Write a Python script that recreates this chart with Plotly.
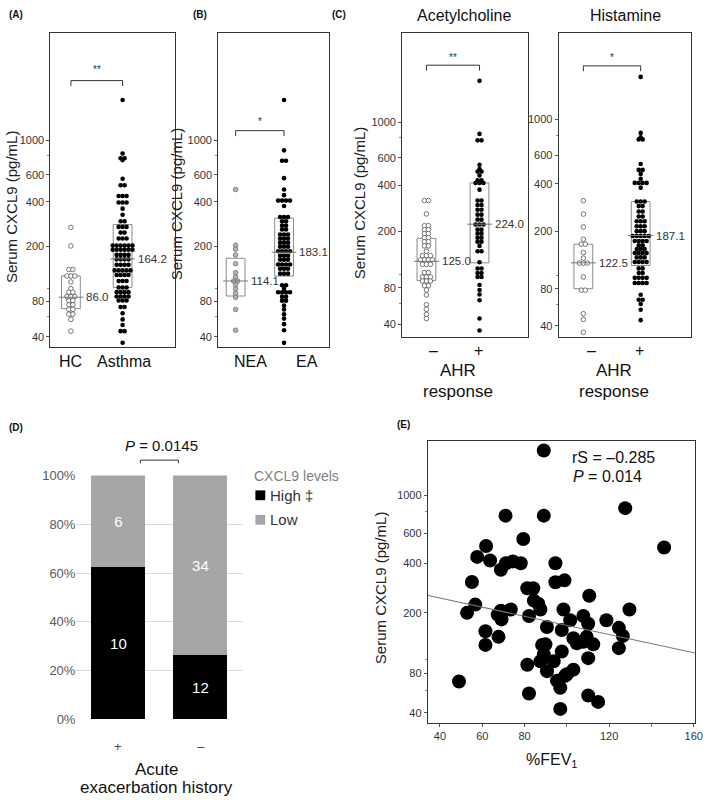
import numpy as np
import plotly.graph_objects as go

W, H = 709, 808
FONT = "Liberation Sans, Arial, sans-serif"

# ---------------- data ----------------
# (A) HC vs Asthma
hc = [270, 202, 138, 138, 124, 124, 124, 112, 100, 94, 94, 87, 87, 87, 81, 81,
      75, 75, 69, 69, 63, 63, 57, 45]
asthma = [1800, 822, 765, 765, 745, 565, 512, 512, 436, 436, 436, 395, 395, 395,
          360, 328, 297, 297, 272, 272, 272, 249, 249, 227, 227, 227,
          203, 203, 203, 203, 203, 203, 190, 190, 190, 190, 190, 190,
          175, 175, 175, 175, 163, 163, 163, 163, 149, 149, 149, 149,
          136, 136, 136, 136, 136, 126, 126, 126, 126, 114, 114, 114,
          102, 102, 102, 94, 94, 94, 94, 87, 87, 87, 87, 81, 81, 81,
          72, 72, 64, 57, 51, 45, 45, 35]
a_groups = ["HC", "Asthma"]
a_median = [86.0, 164.2]
a_q1 = [70, 102]
a_q3 = [124, 282]
a_sig = "**"

# (B) NEA vs EA
nea = [481, 204, 192, 175, 152, 131, 122, 114, 114, 107, 99.5, 92, 86, 69, 46]
ea = [1800, 861, 738, 738, 570, 481, 442, 407, 407, 407, 407, 375,
      317, 317, 317, 297, 297, 278, 278, 262, 262, 242, 242, 242,
      227, 227, 227, 213, 213, 213, 200, 200, 200, 186, 186, 186, 186,
      173, 173, 173, 162, 162, 162, 150, 150, 150, 150, 140, 140, 140,
      129, 129, 129, 106, 106, 100, 94, 94, 94, 94, 87, 87, 81, 81,
      74, 69, 63, 58, 52, 46, 35]
b_groups = ["NEA", "EA"]
b_median = [114.1, 183.1]
b_q1 = [88, 124]
b_q3 = [166, 312]
b_sig = "*"

# (C) AHR response, acetylcholine
ach_neg = [320, 320, 262, 219, 219, 206, 206, 194, 194, 182, 182, 171, 171,
           160, 160, 147, 137, 137, 137, 128, 128, 128, 128, 119, 119, 119,
           104, 104, 96.5, 96.5, 96.5, 90, 90, 90, 83, 83, 77, 70.6, 59, 54, 49, 45]
ach_pos = [1800, 845, 770, 770, 541, 509, 490, 490, 463, 431, 431, 415, 415, 415,
           376, 320, 320, 299, 299, 279, 279, 259, 259, 240, 240, 223, 223, 223,
           206, 206, 194, 194, 182, 182, 171, 171, 160, 147, 147, 123, 111, 111,
           103, 103, 96.5, 96.5, 84, 77, 71, 64, 45, 35]
ach_median = [125.0, 224.0]
ach_q1 = [91, 122]
ach_q3 = [180, 415]
ach_sig = "**"

# (C) AHR response, histamine
his_neg = [314, 258, 213, 177, 164, 164, 144, 132, 122, 122, 122, 97.5, 78, 78,
           51, 45.6, 35]
his_pos = [1800, 825, 776, 753, 753, 532, 489, 489, 462, 431, 406, 406, 406, 406,
           379, 310, 310, 310, 290, 290, 268, 268, 249, 249, 232, 232, 232,
           215, 215, 215, 200, 200, 200, 186, 186, 186, 186, 186,
           172, 172, 172, 172, 161, 161, 152, 152, 152, 143, 143, 143, 143,
           133.5, 133.5, 133.5, 124, 124, 124, 124, 112, 112, 104, 104,
           96, 96, 96, 96, 88, 88, 88, 88, 72, 66, 66, 61, 55, 45]
his_median = [122.5, 187.1]
his_q1 = [80, 117.5]
his_q3 = [164, 310]
his_sig = "*"
ahr_groups = ["\u2013", "+"]
c_titles = ["Acetylcholine", "Histamine"]

y_ticks = [40, 80, 200, 400, 600, 1000]
y_minor = [60, 100, 800]

# (D) acute exacerbation history vs CXCL9 level
d_groups = ["+", "\u2013"]
d_high = [10, 12]
d_low = [6, 34]
d_series = ["High", "Low"]
d_pval = "0.0145"
d_ticks = [0, 20, 40, 60, 80, 100]

# (E) %FEV1 vs serum CXCL9
fev1 = [89.1, 127.6, 71.0, 89.1, 146.0, 79.4, 61.8, 57.6, 63.7, 68.8, 71.2, 74.5,
        78.2, 94.6, 55.1, 94.6, 98.9, 81.3, 84.1, 110.6, 56.7, 52.8, 84.4, 87.5,
        68.8, 73.5, 82.1, 98.4, 129.6, 107.8, 67.3, 69.1, 61.5, 61.5, 67.7, 90.6,
        101.6, 110.1, 118.7, 124.6, 126.5, 124.6, 97.6, 103.1, 107.8, 112.5, 89.9,
        97.6, 89.1, 110.1, 81.3, 87.5, 93.8, 90.6, 103.1, 99.2, 95.3, 96.9, 82.1,
        110.1, 114.8, 96.9, 49.0, 109.4, 104.7, 88.3, 100.0, 86.5]
cxcl9 = [1800, 840, 760, 760, 495, 555, 505, 436, 415, 366, 400, 410, 400, 400,
         309, 308, 316, 283, 283, 255, 225, 200, 238, 210, 206, 210, 191, 210,
         210, 191, 195, 182, 153, 125, 141, 163, 180, 171, 180, 161, 143, 119,
         156, 138, 131, 126, 126, 113, 108, 102, 92, 97, 97, 83, 85, 77, 71, 63,
         57, 55, 49, 43, 70, 141, 128, 125, 79, 228]
trend_fev = [30, 165]
trend_cxcl9 = [263, 107]
e_rs = "\u20130.285"
e_p = "0.014"
e_xticks = [40, 60, 80, 120, 160]
e_xminor = [100, 140]


# ---------------- helpers ----------------
def T(v):
    """Axis scale used by the original figure: log10(value + 20)."""
    return np.log10(np.asarray(v, dtype=float) + 20.0)


def px_x(p):
    return p / W


def px_y(p):
    return 1 - p / H


def swarm(vals, center, px_per_unit, gap_px=4.0):
    xs = np.zeros(len(vals))
    rows = {}
    for i, v in enumerate(vals):
        rows.setdefault(v, []).append(i)
    for v, idx in rows.items():
        k = len(idx)
        for j, i in enumerate(idx):
            xs[i] = center + (j - (k - 1) / 2) * gap_px / px_per_unit
    return xs.tolist(), T(vals).tolist()


fig = go.Figure()
shapes = []
annotations = []


def ann(text, x, y, size, xref="paper", yref="paper", color="#222", xanchor="center",
        yanchor="middle", textangle=0, xshift=0, **kw):
    annotations.append(dict(text=text, x=x, y=y, xref=xref, yref=yref, showarrow=False,
                            font=dict(size=size, color=color, family=FONT),
                            xanchor=xanchor, yanchor=yanchor, textangle=textangle,
                            xshift=xshift, **kw))


# dot-plot panel geometry (pixels)
panels = [
    dict(id="", x0=51, x1=177, top=26.7, bot=346.7, trange=(1.712, 3.678), g0=71.7, g1=124.0,
         data=(hc, asthma), styles=("open", "black"), median=a_median, q1=a_q1, q3=a_q3,
         labels=a_groups, lab_px=(71, 125), lab_y=361.7, lab_size=16,
         br_y=75, star_y=64, sig=a_sig, ytitle_x=11, ytitle_y=203),
    dict(id="2", x0=220.7, x1=333, top=26.7, bot=346.0, trange=(1.717, 3.678), g0=238.3, g1=287.3,
         data=(nea, ea), styles=("grey", "black"), median=b_median, q1=b_q1, q3=b_q3,
         labels=b_groups, lab_px=(253, 310), lab_y=361.7, lab_size=16,
         br_y=126, star_y=117, sig=b_sig, ytitle_x=178, ytitle_y=200),
    dict(id="3", x0=406.7, x1=534, top=26.7, bot=336.7, trange=(1.698, 3.550), g0=431.3, g1=485.0,
         data=(ach_neg, ach_pos), styles=("open", "black"), median=ach_median, q1=ach_q1, q3=ach_q3,
         labels=ahr_groups, lab_px=(438, 484), lab_y=350, lab_size=16,
         br_y=59.3, star_y=51, sig=ach_sig, ytitle_x=363, ytitle_y=199),
    dict(id="4", x0=565, x1=699, top=26.7, bot=336.0, trange=(1.714, 3.520), g0=590.0, g1=648.0,
         data=(his_neg, his_pos), styles=("open", "black"), median=his_median, q1=his_q1, q3=his_q3,
         labels=ahr_groups, lab_px=(598, 647), lab_y=350, lab_size=16,
         br_y=60, star_y=51, sig=his_sig, ytitle_x=None, ytitle_y=None),
]

marker_styles = {
    "open": dict(size=4.6, color="white", line=dict(color="#555", width=0.8)),
    "grey": dict(size=4.6, color="#b4b4b4", line=dict(color="#6e6e6e", width=0.8)),
    "black": dict(size=4.6, color="black", line=dict(width=0)),
}

layout_axes = {}
for p in panels:
    sid = p["id"]
    xname, yname = "x" + sid, "y" + sid
    unit = p["g1"] - p["g0"]
    xr = [(p["x0"] - p["g0"]) / unit, (p["x1"] - p["g0"]) / unit]
    for gi, (vals, st) in enumerate(zip(p["data"], p["styles"])):
        xs, ys = swarm(vals, gi, unit)
        fig.add_trace(go.Scatter(x=xs, y=ys, mode="markers", xaxis=xname, yaxis=yname,
                                 marker=marker_styles[st], showlegend=False, hoverinfo="skip"))
        hw = 9.5 / unit
        mh = 12.5 / unit
        shapes.append(dict(type="rect", xref=xname, yref=yname, x0=gi - hw, x1=gi + hw,
                           y0=float(T(p["q1"][gi])), y1=float(T(p["q3"][gi])),
                           line=dict(color="#8a8a8a", width=1), layer="below"))
        shapes.append(dict(type="line", xref=xname, yref=yname, x0=gi - mh, x1=gi + mh,
                           y0=float(T(p["median"][gi])), y1=float(T(p["median"][gi])),
                           line=dict(color="#777", width=1)))
        ann(f"{p['median'][gi]:.1f}", gi + mh, float(T(p["median"][gi])), 11.5,
            xref=xname, yref=yname, color="#333", xanchor="left", xshift=1)
        ann(p["labels"][gi], gi, px_y(p["lab_y"]), p["lab_size"], xref=xname,
            xshift=p["lab_px"][gi] - (p["g0"] + gi * unit), color="#111")
    # significance bracket
    yb, yh = px_y(p["br_y"]), px_y(p["br_y"] + 5.5)
    shapes.append(dict(type="path", xref=xname, yref="paper",
                       path=f"M 0,{yh} L 0,{yb} L 1,{yb} L 1,{yh}",
                       line=dict(color="#333", width=1)))
    ann(p["sig"], 0.5, px_y(p["star_y"]), 10, xref=xname, color="#333")
    if p["ytitle_x"] is not None:
        ann("Serum CXCL9 (pg/mL)", px_x(p["ytitle_x"]), px_y(p["ytitle_y"]), 15,
            textangle=-90, color="#222")
    layout_axes["xaxis" + sid] = dict(domain=[px_x(p["x0"]), px_x(p["x1"])], range=xr,
                                      anchor=yname, showticklabels=False, ticks="",
                                      showline=True, mirror=True, linecolor="#333",
                                      linewidth=1, showgrid=False, zeroline=False)
    layout_axes["yaxis" + sid] = dict(
        domain=[px_y(p["bot"]), px_y(p["top"])], range=list(p["trange"]), anchor=xname,
        tickmode="array", tickvals=T(y_ticks).tolist(), ticktext=[str(t) for t in y_ticks],
        ticks="outside", ticklen=3, tickwidth=1, tickcolor="#555",
        minor=dict(tickmode="array", tickvals=T(y_minor).tolist(), ticks="outside",
                   ticklen=2, tickcolor="#888"),
        showline=True, mirror=True, linecolor="#333", linewidth=1, showgrid=False,
        zeroline=False, ticklabeloverflow="allow",
        tickfont=dict(size=11, color="#333", family=FONT))

# C titles and x titles
for t, cx in zip(c_titles, (469, 633)):
    ann(t, px_x(cx), px_y(9), 16, color="#111")
for cx in (463, 621):
    ann("AHR", px_x(cx), px_y(370), 17, color="#111")
    ann("response", px_x(cx), px_y(392), 17, color="#111")

# ---------------- (D) stacked bars ----------------
tot = [h + l for h, l in zip(d_high, d_low)]
pct_high = [100 * h / t for h, t in zip(d_high, tot)]
pct_low = [100 * l / t for l, t in zip(d_low, tot)]
d_x = list(range(len(d_groups)))
for name, pct, cnt, col in ((d_series[0], pct_high, d_high, "#000000"),
                            (d_series[1], pct_low, d_low, "#a6a6a6")):
    fig.add_trace(go.Bar(x=d_x, y=pct, text=[str(c) for c in cnt], name=name,
                         marker=dict(color=col, line=dict(width=0)), width=0.65,
                         textposition="inside", insidetextanchor="middle", textangle=0,
                         textfont=dict(color="white", size=15, family=FONT),
                         xaxis="x5", yaxis="y5", showlegend=False, hoverinfo="skip"))
d_unit = 203 - 119.5
layout_axes["xaxis5"] = dict(domain=[px_x(77.3), px_x(246)],
                             range=[(77.3 - 119.5) / d_unit, (246 - 119.5) / d_unit],
                             anchor="y5", showticklabels=False, ticks="", showline=False,
                             showgrid=False, zeroline=False)
layout_axes["yaxis5"] = dict(domain=[px_y(726), px_y(477.3)], range=[0, 100], anchor="x5",
                             tickmode="array", tickvals=d_ticks,
                             ticktext=[f"{t}%" for t in d_ticks], showgrid=True,
                             gridcolor="#d9d9d9", gridwidth=1, zeroline=False, showline=False,
                             ticks="", ticklabeloverflow="allow",
                             tickfont=dict(size=13, color="#595959", family=FONT))
for i, g in enumerate(d_groups):
    ann(g, i, px_y(753), 13, xref="x5", color="#444")
ann("Acute", px_x(158), px_y(777), 17, color="#111")
ann("exacerbation history", px_x(158), px_y(795), 17, color="#111")
ann(f"<i>P</i> = {d_pval}", px_x(163), px_y(447), 15, color="#111")
shapes.append(dict(type="path", xref="x5", yref="paper",
                   path=f"M 0.27,{px_y(465)} L 0.27,{px_y(461.7)} L 0.73,{px_y(461.7)} L 0.73,{px_y(465)}",
                   line=dict(color="#333", width=1)))
# legend (CXCL9 levels)
ann("CXCL9 levels", px_x(255), px_y(477.5), 14, color="#7f7f7f", xanchor="left")
for name, col, cy, extra in ((d_series[0], "#000000", 497.5, " \u2021"),
                             (d_series[1], "#a6a6a6", 522.5, "")):
    shapes.append(dict(type="rect", xref="paper", yref="paper", x0=px_x(258.3), x1=px_x(268.3),
                       y0=px_y(cy + 5), y1=px_y(cy - 5), fillcolor=col, line=dict(width=0)))
    ann(name + extra, px_x(271.5), px_y(cy), 15, color="#333", xanchor="left")

# ---------------- (E) scatter ----------------
fig.add_trace(go.Scatter(x=fev1, y=T(cxcl9).tolist(), mode="markers", xaxis="x6", yaxis="y6",
                         marker=dict(size=14, color="black", line=dict(width=0)),
                         showlegend=False, hoverinfo="skip"))
fig.add_trace(go.Scatter(x=trend_fev, y=T(trend_cxcl9).tolist(), mode="lines",
                         xaxis="x6", yaxis="y6", line=dict(color="#777", width=1.1),
                         showlegend=False, hoverinfo="skip"))
layout_axes["xaxis6"] = dict(domain=[px_x(432.7), px_x(702.7)], range=[34.25, 160.5],
                             anchor="y6", tickmode="array", tickvals=e_xticks,
                             ticktext=[str(t) for t in e_xticks], ticks="outside", ticklen=3,
                             tickcolor="#555",
                             minor=dict(tickmode="array", tickvals=e_xminor, ticks="outside",
                                        ticklen=3, tickcolor="#777"),
                             showline=True, mirror=True, linecolor="#333", linewidth=1,
                             showgrid=False, zeroline=False, ticklabeloverflow="allow",
                             tickfont=dict(size=11, color="#333", family=FONT))
layout_axes["yaxis6"] = dict(domain=[px_y(729.3), px_y(441.7)], range=[1.721, 3.317],
                             anchor="x6", tickmode="array", tickvals=T(y_ticks).tolist(),
                             ticktext=[str(t) for t in y_ticks], ticks="outside", ticklen=3,
                             tickcolor="#555",
                             minor=dict(tickmode="array", tickvals=T(y_minor).tolist(),
                                        ticks="outside", ticklen=2, tickcolor="#888"),
                             showline=True, mirror=True, linecolor="#333", linewidth=1,
                             showgrid=False, zeroline=False, ticklabeloverflow="allow",
                             tickfont=dict(size=11, color="#333", family=FONT))
ann(f"rS = {e_rs}", px_x(577), px_y(459), 16, color="#111", xanchor="left")
ann(f"<i>P</i> = {e_p}", px_x(578), px_y(478), 16, color="#111", xanchor="left")
ann("Serum CXCL9 (pg/mL)", px_x(385), px_y(591.5), 15, textangle=-90, color="#222")
ann("%FEV<sub>1</sub>", px_x(558), px_y(768), 16, color="#111")

# panel letters
for lab, lx, ly in (("(A)", 7, 8), ("(B)", 193, 8), ("(C)", 334, 8), ("(D)", 7, 428),
                    ("(E)", 400, 425)):
    ann(f"<b>{lab}</b>", px_x(lx), px_y(ly), 10, color="#111", xanchor="left")

fig.update_layout(width=W, height=H, margin=dict(l=0, r=0, t=0, b=0),
                  paper_bgcolor="white", plot_bgcolor="rgba(0,0,0,0)",
                  font=dict(family=FONT, color="#222"), barmode="stack", bargap=0,
                  shapes=shapes, annotations=annotations, showlegend=False, **layout_axes)

fig.write_html("out.html", config={"displayModeBar": False},
               post_script="document.body.style.margin='0px';document.body.style.overflow='hidden';")
